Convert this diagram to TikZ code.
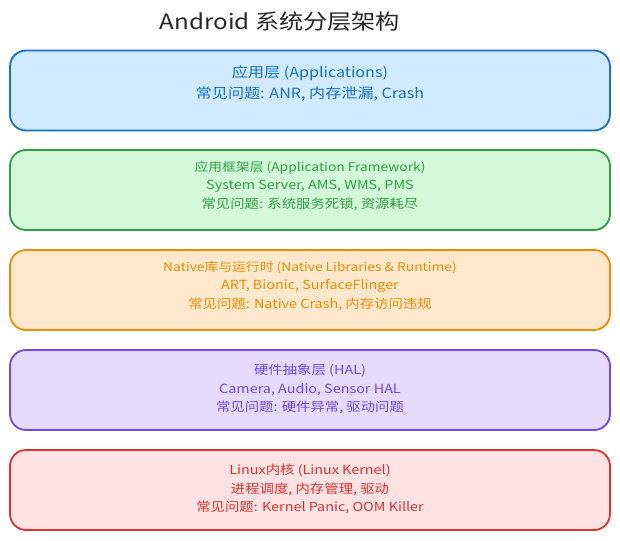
\documentclass[tikz,border=0pt]{standalone}
\usepackage{fontspec}
\setmainfont[FakeStretch=1.15]{Noto Sans CJK SC}
\definecolor{bS}{HTML}{1971C2}\definecolor{bF}{HTML}{D0EBFF}
\definecolor{gS}{HTML}{2F9E44}\definecolor{gF}{HTML}{D3F9D8}
\definecolor{oS}{HTML}{F08C00}\definecolor{oF}{HTML}{FFE8CC}
\definecolor{pS}{HTML}{7048E8}\definecolor{pF}{HTML}{E5DBFF}
\definecolor{rS}{HTML}{E03131}\definecolor{rF}{HTML}{FFE3E3}
\begin{document}
\begin{tikzpicture}[x=1pt,y=-1pt,
  layer/.style={draw, line width=1.8pt, rounded corners=16pt, minimum width=600pt, minimum height=80pt, inner sep=0pt},
  ltext/.style={align=center, font=\fontsize{12.5}{18.5}\selectfont}]
\useasboundingbox (0,0) rectangle (620,540);
\node[font=\fontsize{21}{24}\selectfont, text=black!85] (title) at (280,22) {Android 系统分层架构};
\node[layer, draw=bS, fill=bF] (app) at (310,90.5) {};
\node[layer, draw=gS, fill=gF] (fw) at (310,190) {};
\node[layer, draw=oS, fill=oF] (nat) at (310,290) {};
\node[layer, draw=pS, fill=pF] (hal) at (310,390) {};
\node[layer, draw=rS, fill=rF] (kern) at (310,490) {};
\node[ltext, text=bS, font=\fontsize{14}{21}\selectfont] (appt) at (310,83.5) {应用层 (Applications)\\常见问题: ANR, 内存泄漏, Crash};
\node[ltext, text=gS] (fwt) at (310,186) {{\fontsize{12}{18.5}\selectfont 应用框架层 (Application Framework)}\\System Server, AMS, WMS, PMS\\常见问题: 系统服务死锁, 资源耗尽};
\node[ltext, text=oS] (natt) at (310,286) {{\fontsize{12}{18.5}\selectfont Native库与运行时 (Native Libraries \& Runtime)}\\ART, Bionic, SurfaceFlinger\\常见问题: Native Crash, 内存访问违规};
\node[ltext, text=pS] (halt) at (310,389) {硬件抽象层 (HAL)\\Camera, Audio, Sensor HAL\\常见问题: 硬件异常, 驱动问题};
\node[ltext, text=rS] (kernt) at (310,489) {Linux内核 (Linux Kernel)\\进程调度, 内存管理, 驱动\\常见问题: Kernel Panic, OOM Killer};
\end{tikzpicture}
\end{document}
